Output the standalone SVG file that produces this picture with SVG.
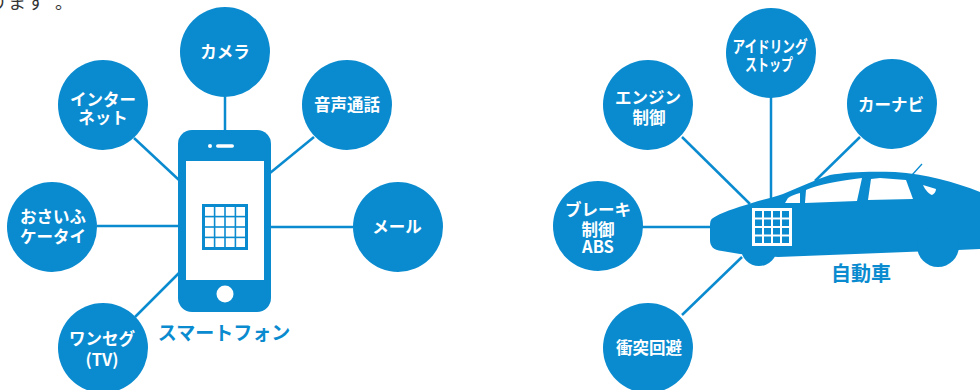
<svg xmlns="http://www.w3.org/2000/svg" width="980" height="390" viewBox="0 0 980 390">
  <style>
    .node { fill: #0a8bd0; }
    .lbl { fill: #ffffff; font-family: "Noto Sans CJK JP", "Noto Sans", sans-serif; font-weight: bold; font-size: 16.5px; text-anchor: middle; }
    .cap { fill: #0a8bd0; font-family: "Noto Sans CJK JP", "Noto Sans", sans-serif; font-weight: bold; text-anchor: middle; }
    .wire { stroke: #0a8bd0; stroke-width: 2.5; fill: none; }
    .hole { fill: #ffffff; }
    .blue { fill: #0a8bd0; }
  </style>
  <defs>
    <!-- 4x4 chip icon: white cells on a blue square -->
    <g id="chip-light">
      <rect x="0" y="0" width="46" height="46" class="blue"/>
      <g class="hole">
        <rect x="3" y="3" width="8.8" height="8.8"/><rect x="13.4" y="3" width="8.8" height="8.8"/><rect x="23.8" y="3" width="8.8" height="8.8"/><rect x="34.2" y="3" width="8.8" height="8.8"/>
        <rect x="3" y="13.4" width="8.8" height="8.8"/><rect x="13.4" y="13.4" width="8.8" height="8.8"/><rect x="23.8" y="13.4" width="8.8" height="8.8"/><rect x="34.2" y="13.4" width="8.8" height="8.8"/>
        <rect x="3" y="23.8" width="8.8" height="8.8"/><rect x="13.4" y="23.8" width="8.8" height="8.8"/><rect x="23.8" y="23.8" width="8.8" height="8.8"/><rect x="34.2" y="23.8" width="8.8" height="8.8"/>
        <rect x="3" y="34.2" width="8.8" height="8.8"/><rect x="13.4" y="34.2" width="8.8" height="8.8"/><rect x="23.8" y="34.2" width="8.8" height="8.8"/><rect x="34.2" y="34.2" width="8.8" height="8.8"/>
      </g>
    </g>
    <!-- 4x4 chip icon: blue cells on a white square -->
    <g id="chip-dark">
      <rect x="0" y="0" width="40" height="38" class="hole"/>
      <g class="blue">
        <rect x="3" y="3" width="7" height="6.5"/><rect x="12" y="3" width="7" height="6.5"/><rect x="21" y="3" width="7" height="6.5"/><rect x="30" y="3" width="7" height="6.5"/>
        <rect x="3" y="11.5" width="7" height="6.5"/><rect x="12" y="11.5" width="7" height="6.5"/><rect x="21" y="11.5" width="7" height="6.5"/><rect x="30" y="11.5" width="7" height="6.5"/>
        <rect x="3" y="20" width="7" height="6.5"/><rect x="12" y="20" width="7" height="6.5"/><rect x="21" y="20" width="7" height="6.5"/><rect x="30" y="20" width="7" height="6.5"/>
        <rect x="3" y="28.5" width="7" height="6.5"/><rect x="12" y="28.5" width="7" height="6.5"/><rect x="21" y="28.5" width="7" height="6.5"/><rect x="30" y="28.5" width="7" height="6.5"/>
      </g>
    </g>
  </defs>

  <!-- tail of the preceding sentence -->
  <text x="-11 8 27 55" y="9" fill="#333333" font-family="'Noto Sans CJK JP', sans-serif" font-size="18">ります。</text>

  <!-- connectors -->
  <g id="connectors" class="wire">
    <line x1="225" y1="97" x2="225" y2="131"/>
    <line x1="134" y1="138" x2="179" y2="180"/>
    <line x1="97" y1="226" x2="179" y2="226"/>
    <line x1="135" y1="317" x2="180" y2="272"/>
    <line x1="314" y1="137" x2="270" y2="173"/>
    <line x1="270" y1="227" x2="353" y2="227"/>
    <line x1="682" y1="137" x2="750" y2="204"/>
    <line x1="771" y1="97" x2="771" y2="198"/>
    <line x1="860" y1="137" x2="815" y2="181"/>
    <line x1="642" y1="227" x2="712" y2="227"/>
    <line x1="682" y1="315" x2="742" y2="257"/>
  </g>

  <!-- smartphone -->
  <g id="smartphone">
    <rect x="178" y="130" width="93" height="182" rx="14" class="blue"/>
    <rect x="186" y="161" width="78" height="119" class="hole"/>
    <circle cx="210" cy="146" r="2" class="hole"/>
    <rect x="216" y="144.3" width="18" height="3.5" rx="1.75" class="hole"/>
    <circle cx="225" cy="294" r="8.5" class="hole"/>
    <use href="#chip-light" x="202" y="204"/>
    <text x="224" y="340" class="cap" font-size="19">スマートフォン</text>
  </g>

  <g id="camera"><circle cx="225" cy="52" r="45" class="node"/><text x="225" y="58" class="lbl">カメラ</text></g>
  <g id="internet"><circle cx="103" cy="105" r="45" class="node"/><text x="103" y="106" class="lbl">インター</text><text x="103" y="124" class="lbl">ネット</text></g>
  <g id="osaifu"><circle cx="52" cy="227" r="45" class="node"/><text x="53" y="223" class="lbl">おさいふ</text><text x="53" y="243" class="lbl">ケータイ</text></g>
  <g id="oneseg"><circle cx="103" cy="348" r="45" class="node"/><text x="102" y="345" class="lbl">ワンセグ</text><text x="102" y="366" class="lbl">(TV)</text></g>
  <g id="voice"><circle cx="347" cy="105" r="45" class="node"/><text x="347" y="111" class="lbl">音声通話</text></g>
  <g id="mail"><circle cx="398" cy="227" r="45" class="node"/><text x="397" y="233" class="lbl">メール</text></g>

  <!-- car -->
  <g id="car">
    <path class="blue" d="M 713,218 C 720,213 735,208 752,203 C 765,199 775,197 783,194 C 800,187 815,180 830,175 C 845,172 870,171 895,172 C 925,174 955,182 980,192 L 980,249 L 958,250 L 778,257 L 740,254 L 722,251 C 713,250 710,246 710,240 L 710,226 C 710,221 711,219 713,218 Z"/>
    <circle cx="759" cy="248" r="18" class="blue"/>
    <circle cx="938" cy="246" r="21" class="blue"/>
    <line x1="912" y1="175" x2="922" y2="164" stroke="#0a8bd0" stroke-width="1.3"/>
    <path class="hole" d="M 785,203 L 788,198 C 791,196 795,194 800,193 L 800,203 Z"/>
    <path class="hole" d="M 805,203 L 806,190 C 815,186 830,182 862,178 L 857,201 Z"/>
    <path class="hole" d="M 868,200 L 871,179 L 880,178 L 906,180 L 913,199 Z"/>
    <path class="hole" d="M 923,185 L 936,189 C 936,192 934,194 932,195 C 929,194 925,190 923,185 Z"/>
    <use href="#chip-dark" x="752" y="208"/>
    <text x="861" y="281" class="cap" font-size="20">自動車</text>
  </g>

  <g id="engine"><circle cx="648" cy="105" r="45" class="node"/><text x="648" y="104" class="lbl">エンジン</text><text x="649" y="124" class="lbl">制御</text></g>
  <g id="idling"><circle cx="771" cy="53" r="45" class="node"/><text x="770" y="53" class="lbl" textLength="75" lengthAdjust="spacingAndGlyphs">アイドリング</text><text x="769" y="71" class="lbl" textLength="48" lengthAdjust="spacingAndGlyphs">ストップ</text></g>
  <g id="carnavi"><circle cx="892" cy="104" r="45" class="node"/><text x="891" y="111" class="lbl">カーナビ</text></g>
  <g id="brake"><circle cx="598" cy="226" r="45" class="node"/><text x="598" y="216" class="lbl">ブレーキ</text><text x="598" y="236" class="lbl">制御</text><text x="598" y="253" class="lbl">ABS</text></g>
  <g id="collision"><circle cx="648" cy="348" r="45" class="node"/><text x="649" y="354" class="lbl">衝突回避</text></g>
</svg>
